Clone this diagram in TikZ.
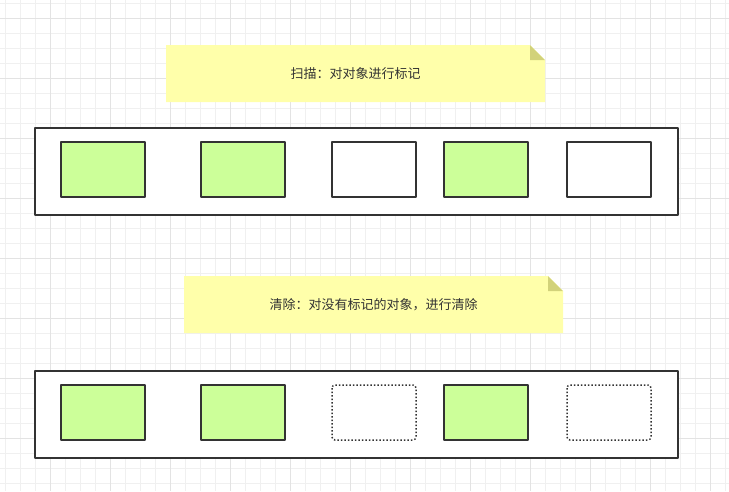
\documentclass[tikz,border=0pt]{standalone}
\usepackage{fontspec}
\newfontfamily\cjk{Noto Sans CJK SC}
\definecolor{notefill}{HTML}{FFFFAA}
\definecolor{notefold}{HTML}{D2D27A}
\definecolor{objfill}{HTML}{CCFF99}
\definecolor{edge}{HTML}{333333}
\begin{document}
\begin{tikzpicture}[x=1pt,y=-1pt, line join=round,
  obj/.style={draw=edge, line width=1.5pt, fill=objfill},
  freed/.style={draw=edge, line width=1.5pt, dotted, rounded corners=3pt},
  heap/.style={draw=edge, line width=1.5pt},
  minor/.style={black!6, line width=0.5pt},
  major/.style={black!11, line width=0.5pt},
  notetext/.style={font=\cjk\fontsize{13}{15}\selectfont, text=edge}]
\useasboundingbox (0,0) rectangle (729,491);
\fill[white] (0,0) rectangle (729,491);
\foreach \i in {0,...,48} {
  \draw[minor] (5.7+15*\i,0) -- (5.7+15*\i,491);
}
\foreach \i in {0,...,32} {
  \draw[minor] (0,3.3+15*\i) -- (729,3.3+15*\i);
}
\foreach \i in {0,...,11} {
  \draw[major] (50.7+60*\i,0) -- (50.7+60*\i,491);
}
\foreach \i in {0,...,8} {
  \draw[major] (0,18.3+60*\i) -- (729,18.3+60*\i);
}
% notes
\foreach \y/\lx/\txt/\nm in {45/166/{扫描：对对象进行标记}/mark, 276/184/{清除：对没有标记的对象，进行清除}/sweep} {
  \fill[notefill] (\lx,\y) -- (\lx+364,\y) -- (\lx+379,\y+15) -- (\lx+379,\y+57) -- (\lx,\y+57) -- cycle;
  \fill[notefold] (\lx+364,\y) -- (\lx+379,\y+15) -- (\lx+364,\y+15) -- cycle;
  \node[notetext] (\nm) at (\lx+189.5,\y+29) {\txt};
}
% heap before
\draw[heap,fill=white] (35,128) rectangle (678,215);
\foreach \x/\st in {61/obj, 201/obj, 332/draw, 444/obj, 567/draw}
  \draw[heap,\st] (\x,142) rectangle (\x+84,197);
% heap after
\draw[heap,fill=white] (35,371) rectangle (678,458);
\foreach \x/\st in {61/obj, 201/obj, 332/freed, 444/obj, 567/freed}
  \draw[heap,\st] (\x,385) rectangle (\x+84,440);
\end{tikzpicture}
\end{document}
